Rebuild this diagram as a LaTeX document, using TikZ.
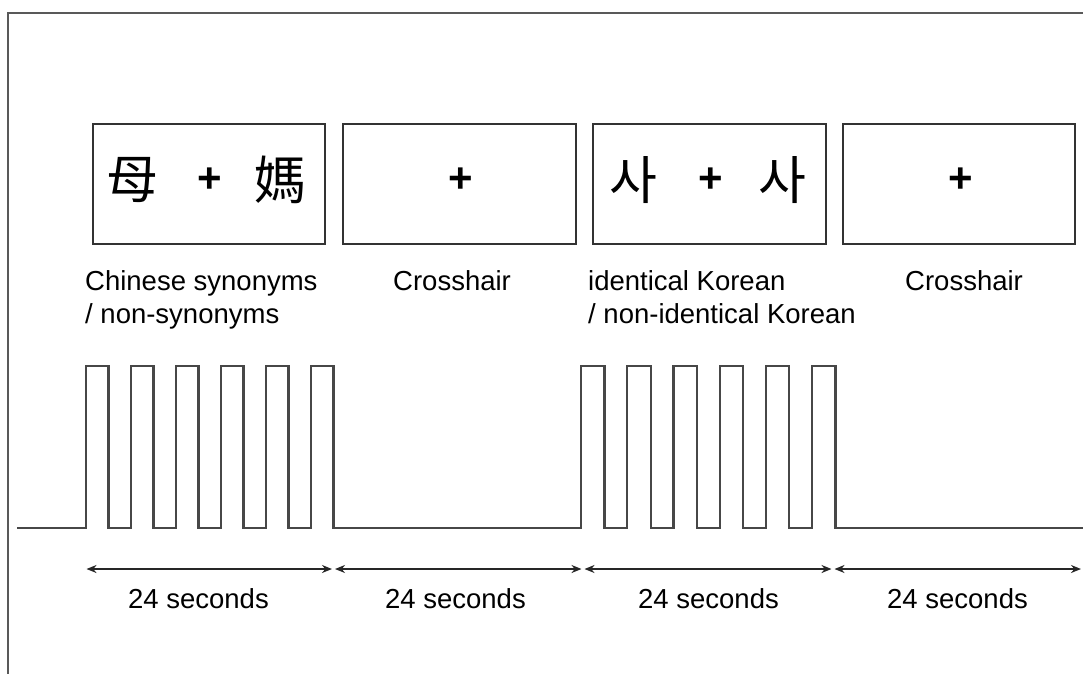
\documentclass[tikz,border=0pt]{standalone}
\usepackage{fontspec}
\setmainfont{Liberation Sans}
\newfontfamily\hanzi{Noto Sans CJK TC}
\newfontfamily\hangul{Noto Sans CJK KR}
\usetikzlibrary{arrows.meta}

\begin{document}
\begin{tikzpicture}[x=1pt,y=-1pt,
  frameline/.style={draw=black!65, line width=2.6pt},
  stimbox/.style={draw=black!80, line width=2pt, inner sep=0pt,
    minimum height=120pt},
  wave/.style={draw=black!72, line width=2.2pt, line join=miter},
  span/.style={draw=black!85, line width=1.6pt, shorten <=1.5pt, shorten >=1.5pt,
    {Stealth[length=10pt,width=8pt]}-{Stealth[length=10pt,width=8pt]}},
  lab/.style={anchor=base west, inner sep=0pt, font=\fontsize{27.5}{33}\selectfont},
  dur/.style={anchor=base, inner sep=0pt, font=\fontsize{27.5}{33}\selectfont},
  glyph/.style={inner sep=0pt},
  cross/.style={inner sep=0pt, font=\fontsize{42}{42}\selectfont\bfseries}]

\useasboundingbox (0,0) rectangle (1083,673);
\fill[white] (0,0) rectangle (1083,673);

% outer frame (open to the right and bottom)
\draw[frameline] (8,690) -- (8,13) -- (1100,13);

% stimulus screens
\node[stimbox, minimum width=232pt] (b1) at (209,184) {};
\node[stimbox, minimum width=233pt] (b2) at (459.5,184) {};
\node[stimbox, minimum width=233pt] (b3) at (709.5,184) {};
\node[stimbox, minimum width=232pt] (b4) at (959,184) {};

% screen contents
\node[glyph, font={\hanzi\fontsize{52}{52}\selectfont}] (c1) at (132,180) {母};
\node[cross] (p1) at (210,180) {+};
\node[glyph, font={\hanzi\fontsize{52}{52}\selectfont}] (c2) at (280,180) {媽};
\node[cross] (p2) at (461,180) {+};
\node[glyph, font={\hangul\fontsize{52}{52}\selectfont}] (k1) at (633,180) {사};
\node[cross] (p3) at (711,180) {+};
\node[glyph, font={\hangul\fontsize{52}{52}\selectfont}] (k2) at (782,180) {사};
\node[cross] (p4) at (961,180) {+};

% condition labels
\node[lab] (l1a) at (85,290) {Chinese synonyms};
\node[lab] (l1b) at (85,323) {/ non-synonyms};
\node[lab] (l2)  at (393,290) {Crosshair};
\node[lab] (l3a) at (588,290) {identical Korean};
\node[lab] (l3b) at (588,323) {/ non-identical Korean};
\node[lab] (l4)  at (905,290) {Crosshair};

% block design time course
\draw[wave] (17,528)
  \foreach \k in {0,...,5} {
    -- ({86+45*\k},528) -- ({86+45*\k},366)
    -- ({108.5+45*\k},366) -- ({108.5+45*\k},528) }
  -- (581,528)
  \foreach \k in {0,...,5} {
    -- ({581+46.2*\k},528) -- ({581+46.2*\k},366)
    -- ({604.5+46.2*\k},366) -- ({604.5+46.2*\k},528) }
  -- (1090,528);

% block boundaries and durations
\coordinate (t0) at (85,569);
\coordinate (t1) at (333.5,569);
\coordinate (t2) at (583,569);
\coordinate (t3) at (833,569);
\coordinate (t4) at (1082.5,569);
\draw[span] (t0) -- (t1);
\draw[span] (t1) -- (t2);
\draw[span] (t2) -- (t3);
\draw[span] (t3) -- (t4);

\node[dur] (d1) at (198.5,608) {24 seconds};
\node[dur] (d2) at (455.5,608) {24 seconds};
\node[dur] (d3) at (708.5,608) {24 seconds};
\node[dur] (d4) at (957.5,608) {24 seconds};
\end{tikzpicture}
\end{document}
